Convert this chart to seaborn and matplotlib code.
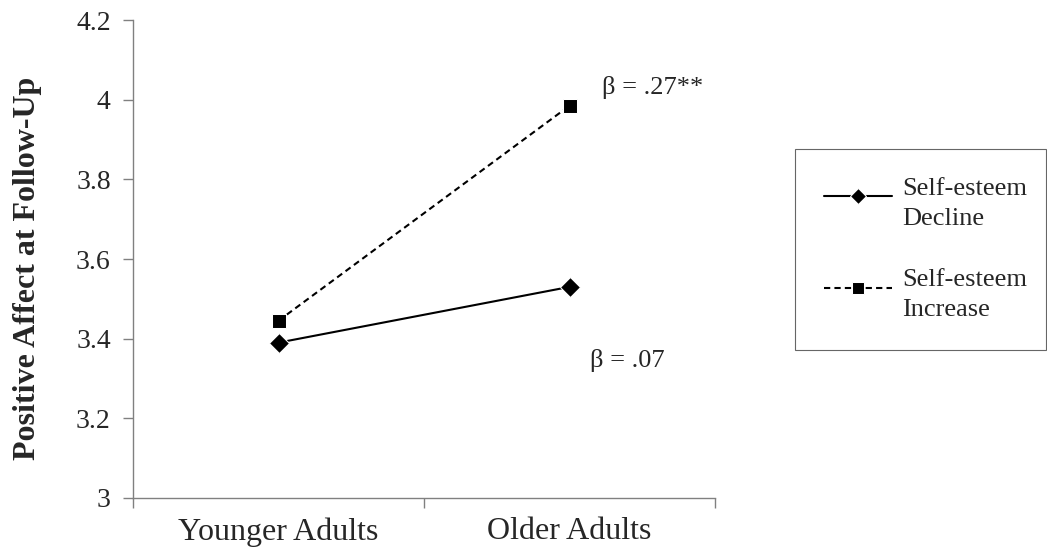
import numpy as np
import pandas as pd
import matplotlib
matplotlib.use('Agg')
import matplotlib.pyplot as plt
import seaborn as sns

# Data
groups = ['Younger Adults', 'Older Adults']
decline = [3.39, 3.53]
increase = [3.445, 3.985]
series_names = ['Self-esteem\nDecline', 'Self-esteem\nIncrease']

df = pd.DataFrame({
    'group': groups * 2,
    'value': decline + increase,
    'series': [series_names[0]] * 2 + [series_names[1]] * 2,
})

sns.set_style('white')
plt.rcParams['font.family'] = ['Liberation Serif', 'DejaVu Serif']

fig = plt.figure(figsize=(10.47, 5.57), dpi=100)
ax = fig.add_axes([0.127, 0.106, 0.556, 0.858])

sns.lineplot(data=df, x='group', y='value', hue='series', style='series',
             palette=['black', 'black'],
             markers={series_names[0]: 'D', series_names[1]: 's'},
             dashes={series_names[0]: '', series_names[1]: (3, 2)},
             linewidth=1.5, markersize=10, ax=ax, legend=True)

ax.set_xlim(-0.5, 1.5)
ax.set_ylim(3, 4.2)
ax.set_yticks([3, 3.2, 3.4, 3.6, 3.8, 4, 4.2])
ax.set_yticklabels(['3', '3.2', '3.4', '3.6', '3.8', '4', '4.2'])
ax.set_xticks([0, 1])
ax.set_xticklabels(groups)
ax.set_xticks([-0.5, 0.5, 1.5], minor=True)
ax.tick_params(axis='x', which='major', length=0, labelsize=23, pad=14)
ax.tick_params(axis='x', which='minor', length=7, width=1, color='#808080', direction='out', bottom=True)
ax.tick_params(axis='y', length=7, width=1, color='#808080', direction='out', left=True, labelsize=20, pad=9)

for s in ['top', 'right']:
    ax.spines[s].set_visible(False)
for s in ['left', 'bottom']:
    ax.spines[s].set_color('#808080')
    ax.spines[s].set_linewidth(1)

ax.set_xlabel('')
ax.set_ylabel('Positive Affect at Follow-Up', fontsize=23, fontweight='bold')
ax.yaxis.set_label_coords(-0.156, 0.48)

ax.text(1.11, 4.03, 'β = .27**', fontsize=19, va='center', ha='left')
ax.text(1.07, 3.345, 'β = .07', fontsize=19, va='center', ha='left')

handles, labels = ax.get_legend_handles_labels()
ax.get_legend().remove()
leg = fig.legend(handles, labels, loc='upper left', bbox_to_anchor=(0.759, 0.7325, 0.24, 0.0),
                 mode='expand', fontsize=19, frameon=True, fancybox=False,
                 edgecolor='#404040', handlelength=2.6, handletextpad=0.38,
                 handleheight=2.4, labelspacing=1.5, borderpad=1.1, borderaxespad=0,
                 markerscale=0.85)
leg.get_frame().set_linewidth(0.8)
for t in leg.get_texts():
    t.set_linespacing(1.45)

fig.savefig('out.png', dpi=100)
